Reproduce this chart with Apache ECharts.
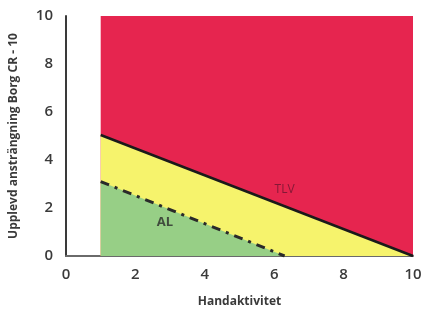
<!DOCTYPE html>
<html>
<head>
<meta charset="utf-8">
<script src="https://cdn.jsdelivr.net/npm/echarts@6/dist/echarts.min.js"></script>
<style>
  html, body { margin: 0; padding: 0; background: #fff; }
  #chart { width: 422px; height: 309px; }
</style>
</head>
<body>
<div id="chart"></div>
<script>
// zoner (Handaktivitet, Borg CR-10)
const redZone = [[1, 10], [10, 10]];
const tlvLine = [[1, 5.04], [10, 0]];
const alLine = [[1, 3.1], [6.3, 0]];
const xTicks = [0, 2, 4, 6, 8, 10];
const yTicks = [0, 2, 4, 6, 8, 10];
const labelTlv = [6.3, 2.75];
const labelAl = [2.85, 1.4];

const font = '"Open Sans", "Liberation Sans", sans-serif';

const chart = echarts.init(document.getElementById('chart'));
chart.setOption({
  animation: false,
  grid: { left: 66, right: 9, top: 16, bottom: 53, outerBoundsMode: 'none' },
  xAxis: {
    type: 'value', min: xTicks[0], max: xTicks[xTicks.length - 1], interval: 2,
    name: 'Handaktivitet', nameLocation: 'middle', nameGap: 40,
    nameTextStyle: { fontFamily: font, fontSize: 12, fontWeight: 'bold', color: '#3a3a3a' },
    axisLine: { lineStyle: { color: '#6a6a6a', width: 2 } },
    axisTick: { show: false },
    splitLine: { show: false },
    axisLabel: { fontFamily: font, fontSize: 15, fontWeight: 600, color: '#3a3a3a', margin: 11 }
  },
  yAxis: {
    type: 'value', min: yTicks[0], max: yTicks[yTicks.length - 1], interval: 2,
    name: 'Upplevd ansträngning Borg CR - 10', nameLocation: 'middle', nameGap: 46,
    nameTextStyle: { fontFamily: font, fontSize: 12, fontWeight: 'bold', color: '#3a3a3a' },
    axisLine: { show: true, lineStyle: { color: '#3a3a3a', width: 2 } },
    axisTick: { show: false },
    splitLine: { show: false },
    axisLabel: { fontFamily: font, fontSize: 15, fontWeight: 600, color: '#3a3a3a', margin: 13 }
  },
  series: [
    {
      type: 'line', data: redZone, symbol: 'none', z: 1,
      lineStyle: { width: 0 },
      areaStyle: { color: '#e6254f', opacity: 1 }
    },
    {
      type: 'line', data: tlvLine, symbol: 'none', z: 2,
      lineStyle: { color: '#1a1a1a', width: 2.5 },
      areaStyle: { color: '#f6f36c', opacity: 1 }
    },
    {
      type: 'line', data: alLine, symbol: 'none', z: 3,
      lineStyle: { width: 0 },
      areaStyle: { color: '#97cf86', opacity: 1 }
    },
    {
      type: 'line', data: alLine, symbol: 'none', z: 4,
      lineStyle: { color: '#2a2a2a', width: 3, type: [9, 6, 3, 6] }
    },
    {
      type: 'scatter', symbolSize: 0, z: 5,
      data: [
        { value: labelTlv, label: { formatter: 'TLV', color: '#6b1530', fontSize: 12 } },
        { value: labelAl, label: { formatter: 'AL', color: '#2a2a2a', fontSize: 13, fontWeight: 'bold' } }
      ],
      label: { show: true, position: 'inside', fontFamily: font }
    }
  ]
});
</script>
</body>
</html>
